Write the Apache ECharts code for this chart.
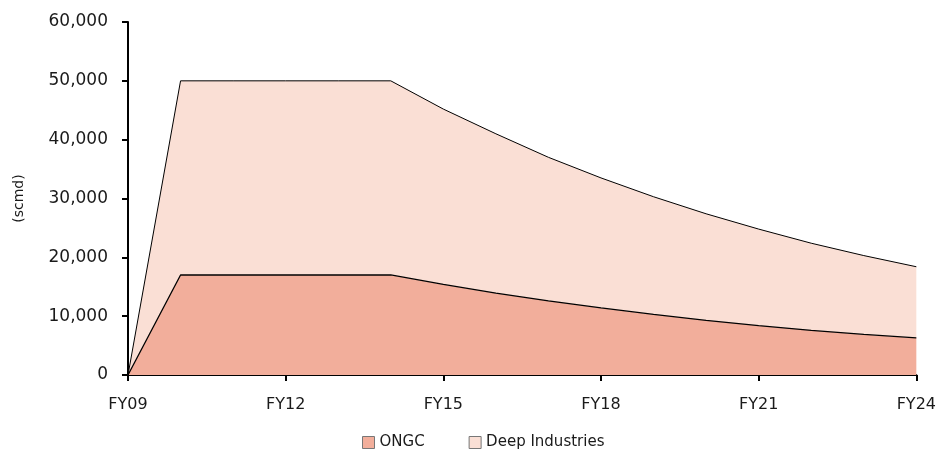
<!DOCTYPE html>
<html>
<head>
<meta charset="utf-8">
<script src="https://cdn.jsdelivr.net/npm/echarts@6/dist/echarts.min.js"></script>
<style>
  html, body { margin: 0; padding: 0; background: #fff; }
  #chart { width: 939px; height: 452px; }
</style>
</head>
<body>
<div id="chart"></div>
<script>
const categories = ['FY09', 'FY10', 'FY11', 'FY12', 'FY13', 'FY14', 'FY15', 'FY16',
    'FY17', 'FY18', 'FY19', 'FY20', 'FY21', 'FY22', 'FY23', 'FY24']
const ongc = [0, 17000, 17000, 17000, 17000, 17000, 15400, 13900,
    12600, 11400, 10300, 9300, 8400, 7600, 6900, 6300]
const deepIndustries = [0, 33000, 33000, 33000, 33000, 33000, 29800, 27100,
    24400, 22100, 20000, 18100, 16400, 14800, 13400, 12100]
const yTicks = [0, 10000, 20000, 30000, 40000, 50000, 60000]

const font = 'DejaVu Sans'
const textColor = '#1a1a1a'

const chart = echarts.init(document.getElementById('chart'))

chart.setOption({
    animation: false,
    textStyle: { fontFamily: font, color: textColor },
    grid: { left: 128, right: 22, top: 22, bottom: 77 },
    legend: {
        top: 430,
        left: 357,
        icon: 'rect',
        itemWidth: 12,
        itemHeight: 12,
        itemGap: 44,
        textStyle: { fontFamily: font, fontSize: 15, color: textColor },
        itemStyle: { borderColor: '#777', borderWidth: 1 },
        data: ['ONGC', 'Deep Industries'],
    },
    xAxis: {
        type: 'category',
        data: categories,
        boundaryGap: false,
        axisLine: { lineStyle: { color: '#000', width: 2 } },
        axisTick: { show: true, interval: 2, length: 6, lineStyle: { color: '#000', width: 2 } },
        axisLabel: { interval: 2, margin: 22, fontSize: 16, color: textColor, fontFamily: font },
    },
    yAxis: {
        type: 'value',
        min: yTicks[0],
        max: yTicks[yTicks.length - 1],
        interval: 10000,
        name: '(scmd)',
        nameLocation: 'middle',
        nameGap: 102,
        nameTextStyle: { fontSize: 14, color: textColor, fontFamily: font },
        axisLine: { show: true, lineStyle: { color: '#000', width: 2 } },
        axisTick: { show: true, length: 6, lineStyle: { color: '#000', width: 2 } },
        splitLine: { show: false },
        axisLabel: {
            margin: 20,
            fontSize: 17,
            color: textColor,
            fontFamily: font,
            formatter: (v) => v.toLocaleString('en-US'),
        },
    },
    series: [
        {
            name: 'ONGC',
            type: 'line',
            stack: 'total',
            data: ongc,
            symbol: 'none',
            lineStyle: { color: '#000', width: 1.3 },
            itemStyle: { color: '#F2AE9B' },
            areaStyle: { color: '#F2AE9B', opacity: 1 },
        },
        {
            name: 'Deep Industries',
            type: 'line',
            stack: 'total',
            data: deepIndustries,
            symbol: 'none',
            lineStyle: { color: '#000', width: 1 },
            itemStyle: { color: '#FADFD5' },
            areaStyle: { color: '#FADFD5', opacity: 1 },
        },
    ],
})
</script>
</body>
</html>
